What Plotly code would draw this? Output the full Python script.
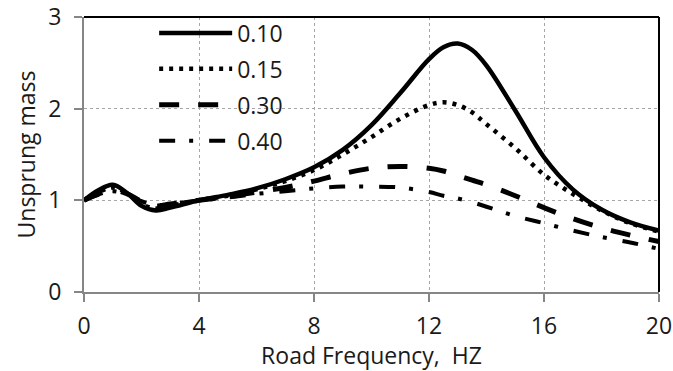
import plotly.graph_objects as go

freq = [0, 0.5, 1, 1.5, 2, 2.5, 3, 4, 5, 6, 7, 8, 9, 10, 11, 12, 12.5, 13, 13.5, 14, 15, 16, 17, 18, 19, 20]
z010 = [1.00, 1.11, 1.17, 1.08, 0.94, 0.89, 0.92, 1.00, 1.06, 1.13, 1.23, 1.36, 1.55, 1.82, 2.17, 2.54, 2.67, 2.71, 2.64, 2.47, 1.98, 1.47, 1.12, 0.90, 0.76, 0.67]
z015 = [1.00, 1.09, 1.14, 1.08, 0.96, 0.91, 0.94, 1.00, 1.05, 1.12, 1.21, 1.33, 1.50, 1.69, 1.89, 2.04, 2.07, 2.04, 1.96, 1.83, 1.57, 1.28, 1.07, 0.89, 0.75, 0.66]
z030 = [1.00, 1.07, 1.11, 1.07, 0.99, 0.94, 0.96, 1.00, 1.04, 1.09, 1.14, 1.21, 1.29, 1.35, 1.37, 1.35, 1.32, 1.27, 1.22, 1.17, 1.05, 0.92, 0.80, 0.70, 0.62, 0.55]
z040 = [1.00, 1.06, 1.10, 1.06, 0.99, 0.95, 0.96, 1.00, 1.03, 1.07, 1.10, 1.13, 1.15, 1.15, 1.14, 1.09, 1.05, 1.02, 0.98, 0.93, 0.83, 0.75, 0.67, 0.60, 0.54, 0.47]

names = ["0.10", "0.15", "0.30", "0.40"]
series = [z010, z015, z030, z040]
styles = [
    dict(width=4.5, dash="solid"),
    dict(width=4.5, dash="4px,6px"),
    dict(width=5, dash="20px,19px"),
    dict(width=4, dash="16px,14px,4px,16px"),
]

x_ticks = [0, 4, 8, 12, 16, 20]
y_ticks = [0, 1, 2, 3]

FONT = "Open Sans"
FS = 23
fig = go.Figure()
for name, ys, st in zip(names, series, styles):
    fig.add_trace(go.Scatter(
        x=freq, y=ys, name=name, mode="lines", legendgroup=name,
        line=dict(color="black", shape="spline", smoothing=1.0, **st),
    ))

axis_common = dict(
    ticks="outside", ticklen=8, tickcolor="#868686", tickwidth=2,
    showline=True, linecolor="#868686", linewidth=2,
    showgrid=True, gridcolor="#a6a6a6", gridwidth=1, griddash="dot",
    zeroline=False, automargin=False, ticklabeloverflow="allow",
    tickfont=dict(size=FS, color="#1a1a1a"),
)

fig.update_layout(
    width=673, height=371,
    margin=dict(l=84, r=14, t=15, b=79),
    paper_bgcolor="white", plot_bgcolor="white",
    font=dict(family=FONT, size=FS, color="#1a1a1a"),
    showlegend=True,
    legend=dict(x=0.122, y=1.02, xanchor="left", yanchor="top",
                bgcolor="rgba(0,0,0,0)", font=dict(size=FS, color="#1a1a1a"),
                itemwidth=73, tracegroupgap=3),
    xaxis=dict(range=[0, 20], tickvals=x_ticks, ticklabelstandoff=4,
               title=dict(text="Road Frequency,\u00a0 HZ", standoff=1, font=dict(size=FS)),
               **axis_common),
    yaxis=dict(range=[0, 3], tickvals=y_ticks, ticklabelstandoff=8,
               title=dict(text="Unsprung mass", standoff=6, font=dict(size=FS)),
               **axis_common),
    shapes=[
        dict(type="line", xref="paper", yref="paper", x0=0, x1=1, y0=1, y1=1,
             line=dict(color="black", width=2)),
        dict(type="line", xref="paper", yref="paper", x0=1, x1=1, y0=0, y1=1,
             line=dict(color="black", width=2)),
    ],
)

fig.write_html(
    "out.html",
    config={"displayModeBar": False},
    post_script="document.body.style.margin='0';document.body.style.overflow='hidden';",
)
